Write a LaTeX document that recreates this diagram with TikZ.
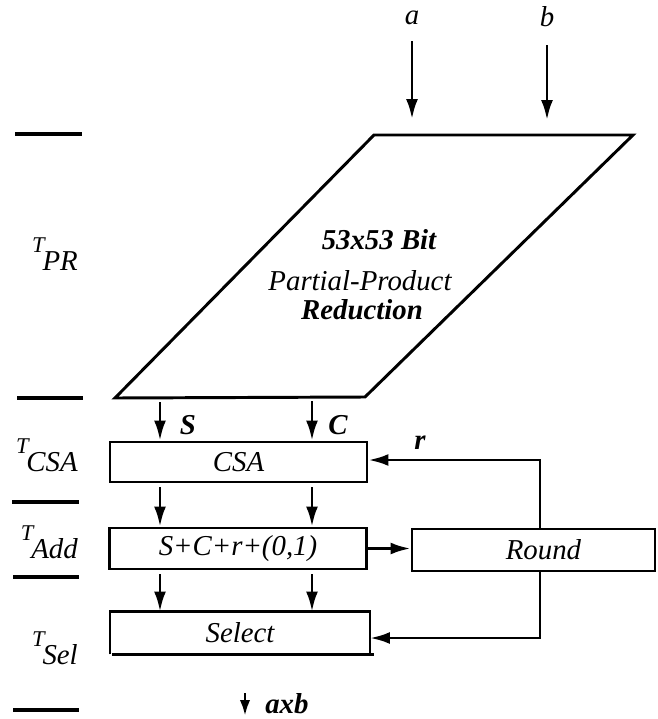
\documentclass[tikz,border=0pt]{standalone}
\usepackage{fontspec}
\setmainfont{Liberation Serif}
\usetikzlibrary{arrows.meta,positioning,calc}
\newcommand{\mainsize}{\fontsize{20.5}{22}\selectfont}
\newcommand{\tlab}[1]{{\fontsize{16}{16}\selectfont T}\kern-1.5pt\raisebox{-12.5pt}{#1}}
\tikzset{
  box/.style={draw,line width=2.1pt,minimum width=64.25mm,minimum height=10mm,inner sep=0pt,
    font=\mainsize\itshape},
  arr/.style={-{Latex[length=5mm,width=3mm]},line width=2.1pt},
  tbar/.style={line width=2.8pt},
  lbl/.style={font=\mainsize\bfseries\itshape,inner sep=0pt},
  ilbl/.style={font=\mainsize\itshape,inner sep=0pt},
}

\begin{document}
\begin{tikzpicture}[x=0.25mm,y=-0.25mm]
  \useasboundingbox (0,0) rectangle (658,719);

  % reduction tree
  \coordinate (pTL) at (374,135);
  \coordinate (pTR) at (633,135);
  \coordinate (pBR) at (365,397);
  \coordinate (pBL) at (115,398);
  \draw[line width=2.1pt,line join=miter] (pTL) -- (pTR) -- (pBR) -- (pBL) -- cycle;
  \node[lbl]  (bit) at (379,240) {53x53 Bit};
  \node[ilbl] (ppr) at (360,281) {Partial-Product};
  \node[lbl]  (red) at (362,310) {Reduction};

  \node[ilbl] (a) at (412,18) {a};
  \node[ilbl] (b) at (547,17) {b};
  \draw[arr,shorten <=4mm,shorten >=4mm] (a.south) -- (a.south |- pTL);
  \draw[arr,shorten <=4.5mm,shorten >=3.75mm] (b.south) -- (b.south |- pTR);

  % final stages
  \node[box] (csa) at (238.5,462) {CSA};
  \node[box,minimum height=10.25mm] (add) at (238,548.5) {S+C+r+(0,1)};
  \node[box,draw=none] (sel) at (240,633) {Select};
  \draw[line width=2.1pt] (sel.south west) -- (sel.north west) -- (sel.north east) -- (sel.south east);
  \draw[tbar] ([xshift=0.5mm]sel.south west) -- ([xshift=1mm]sel.south east);
  \node[box,minimum width=60.75mm,minimum height=10.5mm] (rnd) at (533.5,550) {\hspace*{5mm}Round};

  \coordinate (sx) at (160,0);
  \coordinate (cx) at (312,0);
  \draw[arr,shorten <=1mm] (sx |- pBL) -- (sx |- csa.north);
  \draw[arr,shorten <=1mm] (cx |- pBR) -- (cx |- csa.north);
  \node[lbl] (s) at (188,425) {S};
  \node[lbl] (c) at (338,425) {C};
  \foreach \u/\l in {csa/add,add/sel} {
    \draw[arr,shorten <=1mm] (sx |- \u.south) -- (sx |- \l.north);
    \draw[arr,shorten <=1mm] (cx |- \u.south) -- (cx |- \l.north);
  }

  % rounding feedback
  \coordinate (fb) at (540,460);
  \coordinate (fs) at (540,638);
  \draw[arr] (add.east) -- (add.east -| rnd.west);
  \draw[arr] (rnd.north -| fb) -- (fb) -- (csa.east |- fb);
  \node[lbl] (r) at (420,443) {r};
  \draw[arr] (rnd.south -| fs) -- (fs) -- (sel.east |- fs);

  % result
  \coordinate (o1) at (245,693);
  \coordinate (o2) at (245,716);
  \draw[-{Latex[length=4mm,width=2.6mm]},line width=2.1pt] (o1) -- (o2);
  \node[lbl,anchor=base west] (axb) at (265,713) {axb};

  % time marks
  \foreach \y/\xa/\xb in {134/15/82,398/17/83,502/12/79,577/13/79,710/13/79}
    \draw[tbar] (\xa,\y) -- (\xb,\y);
  \node[ilbl,anchor=east] (tpr) at (78,254) {\tlab{PR}};
  \node[ilbl,anchor=east] (tcsa) at (78,455) {\tlab{CSA}};
  \node[ilbl,anchor=east] (tadd) at (78,542) {\tlab{Add}};
  \node[ilbl,anchor=east] (tsel) at (78,648) {\tlab{Sel}};
\end{tikzpicture}
\end{document}
